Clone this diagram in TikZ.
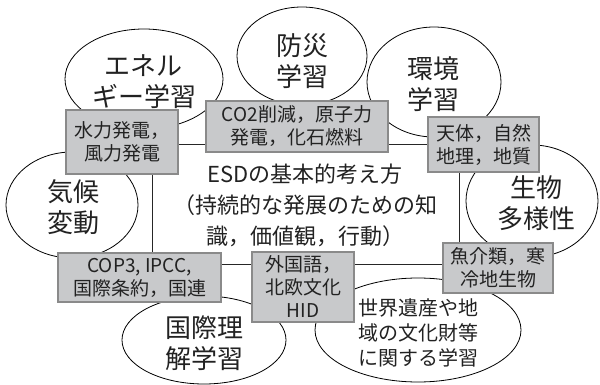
\documentclass[tikz,border=0pt]{standalone}
\usepackage{fontspec}
\newfontfamily\jp{Noto Sans CJK JP}
\setmainfont{Noto Sans CJK JP}
\definecolor{boxfill}{HTML}{C8C9CB}
\definecolor{boxline}{HTML}{8A8A8A}
\definecolor{ink}{HTML}{222222}
\tikzset{
  oval/.style={ellipse, draw=black, line width=0.8pt, fill=white},
  ovaltext/.style={font=\jp\fontsize{26}{31}\selectfont, text=ink, align=center, inner sep=0pt},
  gbox/.style={draw=boxline, line width=1.3pt, fill=boxfill, text=ink, align=center, inner sep=0pt,
    font=\jp\fontsize{19}{23}\selectfont},
  frame/.style={draw=black!85, line width=0.8pt},
}
\usetikzlibrary{shapes.geometric}
\begin{document}
\begin{tikzpicture}[x=1pt,y=-1pt]
\useasboundingbox (0,0) rectangle (600,385);
% ellipses
\draw[oval] (144,79) ellipse (79 and 50);
\draw[oval] (302,56) ellipse (65 and 49);
\draw[oval] (434,82) ellipse (67 and 55);
\draw[oval] (532,201) ellipse (66 and 56);
\draw[oval] (72,205) ellipse (66 and 53);
\draw[oval] (204,340) ellipse (82 and 44);
\draw[oval] (418,330) ellipse (103 and 52);
% ellipse texts
\node[ovaltext] (t1) at (144,82) {エネル\\ギー学習};
\node[ovaltext] (t2) at (302,61) {防災\\学習};
\node[ovaltext] (t3) at (433,84) {環境\\学習};
\node[ovaltext] (t4) at (536,203) {生物\\多様性};
\node[ovaltext] (t5) at (73,207) {気候\\変動};
\node[ovaltext] (t6) at (204,343) {国際理\\解学習};
\node[ovaltext, font=\jp\fontsize{20}{25}\selectfont] (t7) at (418,333) {世界遺産や地\\域の文化財等\\に関する学習};
% central frame
\coordinate (c1) at (152,144);
\coordinate (c3) at (459,264);
\draw[frame] (c1) rectangle (c3);
% central text
\node[font=\jp\fontsize{22}{31}\selectfont, text=ink, align=center, inner sep=0pt] (ctr) at (305,205)
  {ESDの基本的考え方\\（持続的な発展のための知\\識，価値観，行動）};
% gray boxes
\node[gbox, minimum width=112, minimum height=64] (b1) at (122,142) {水力発電，\\風力発電};
\node[gbox, minimum width=182, minimum height=51] (b2) at (297,126.5) {CO2削減，原子力\\発電，化石燃料};
\node[gbox, minimum width=111, minimum height=55] (b3) at (483.5,144.5) {天体，自然\\地理，地質};
\node[gbox, minimum width=163, minimum height=49] (b4) at (139.5,277.5) {COP3, IPCC,\\国際条約，国連};
\node[gbox, minimum width=102, minimum height=70] (b5) at (303,287) {外国語，\\北欧文化\\HID};
\node[gbox, minimum width=110, minimum height=50] (b6) at (498,268) {魚介類，寒\\冷地生物};
\end{tikzpicture}
\end{document}
